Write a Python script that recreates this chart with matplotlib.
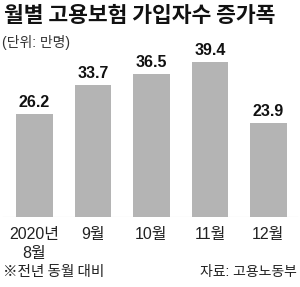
import matplotlib
matplotlib.use("Agg")
import matplotlib.pyplot as plt

months = ['2020년\n8월', '9월', '10월', '11월', '12월']
values = [26.2, 33.7, 36.5, 39.4, 23.9]

kr = ['Liberation Sans', 'Noto Sans CJK KR', 'DejaVu Sans']
plt.rcParams['font.family'] = kr

fig = plt.figure(figsize=(3.0, 2.87), dpi=100)
ax = fig.add_axes([0, 70 / 287, 1, 217 / 287])

x = range(len(values))
ax.bar(x, values, width=0.63, color='#b4b4b4')
ax.set_xlim(-0.59, 4.54)
ax.set_ylim(0, 55.2)
ax.axhline(0, xmin=0.01, xmax=0.99, color='#cccccc', lw=0.8, zorder=0)

for i, v in enumerate(values):
    ax.text(i, v + 1.0, f'{v:.1f}', ha='center', va='bottom',
            fontsize=11.5, fontweight='bold', color='#111111')

ax.set_xticks(list(x))
ax.set_xticklabels(months, fontsize=11.5, color='#222222', linespacing=1.35)
ax.tick_params(axis='x', length=0, pad=7)
ax.set_yticks([])
for s in ax.spines.values():
    s.set_visible(False)

fig.text(4 / 300, 1 - 15 / 287, '월별 고용보험 가입자수 증가폭', ha='left', va='center',
         fontsize=15.5, fontweight='bold', color='#111111',
         family=['Noto Sans CJK KR', 'DejaVu Sans'])
fig.text(2 / 300, 1 - 43 / 287, '(단위: 만명)', ha='left', va='center',
         fontsize=10, color='#333333')
fig.text(3 / 300, 1 - 272 / 287, '※전년 동월 대비', ha='left', va='center',
         fontsize=10.5, color='#222222',
         family=['Noto Sans CJK KR', 'DejaVu Sans'])
fig.text(297 / 300, 1 - 272 / 287, '자료: 고용노동부', ha='right', va='center',
         fontsize=10, color='#222222')

fig.savefig('out.png', dpi=100)
